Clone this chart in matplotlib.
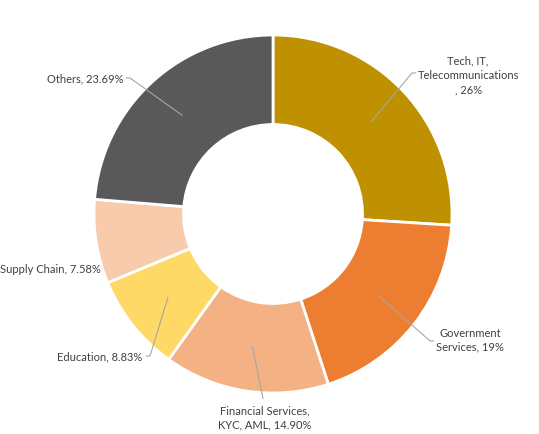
import matplotlib.pyplot as plt
import numpy as np

# chart data
categories = ["Tech, IT,\nTelecommunications\n, 26%", "Government\nServices, 19%",
              "Financial Services,\nKYC, AML, 14.90%", "Education, 8.83%",
              "Supply Chain, 7.58%", "Others, 23.69%"]
shares = [26, 19, 14.90, 8.83, 7.58, 23.69]
colors = ["#BF9000", "#ED7D31", "#F4B183", "#FFD966", "#F8CBAD", "#595959"]

# label placement (data coords, radius 1 = outer edge): text pos, elbow, alignment
label_pos = [(1.09, 0.78), (1.10, -0.70), (-0.045, -1.135), (-0.73, -0.793), (-0.962, -0.307), (-0.835, 0.760)]
elbows = [(0.777, 0.788), (0.877, -0.709), (-0.056, -1.03), (-0.687, -0.793), None, (-0.799, 0.760)]
aligns = ["center", "center", "center", "right", "right", "right"]

plt.rcParams['font.family'] = ['Lato', 'DejaVu Sans']

fig = plt.figure(figsize=(5.39, 4.35), dpi=100)
ax = fig.add_axes([0, 0, 1, 1])

wedges, _ = ax.pie(shares, colors=colors, startangle=90, counterclock=False,
                   radius=1, wedgeprops=dict(width=0.5, edgecolor="white", linewidth=2))

for w, lab, pos, elb, ha in zip(wedges, categories, label_pos, elbows, aligns):
    if elb is not None:
        ang = np.deg2rad((w.theta1 + w.theta2) / 2)
        r = 0.75
        sx, sy = r * np.cos(ang), r * np.sin(ang)
        ex = elb[0] + (0.02 if ha == "center" and elb[0] > 0 else -0.02 if elb[0] < 0 and ha == "right" else 0)
        ax.plot([sx, elb[0], ex], [sy, elb[1], elb[1]], color="#a6a6a6", lw=0.8, zorder=3)
    ax.text(pos[0], pos[1], lab, ha=ha, va="center", fontsize=8, color="#404040",
            linespacing=1.35)

s = 179.0
ax.set_xlim(-273 / s, (539 - 273) / s)
ax.set_ylim(-(435 - 215) / s, 215 / s)
ax.set_aspect("equal")
ax.axis("off")

fig.savefig("out.png", dpi=100)
